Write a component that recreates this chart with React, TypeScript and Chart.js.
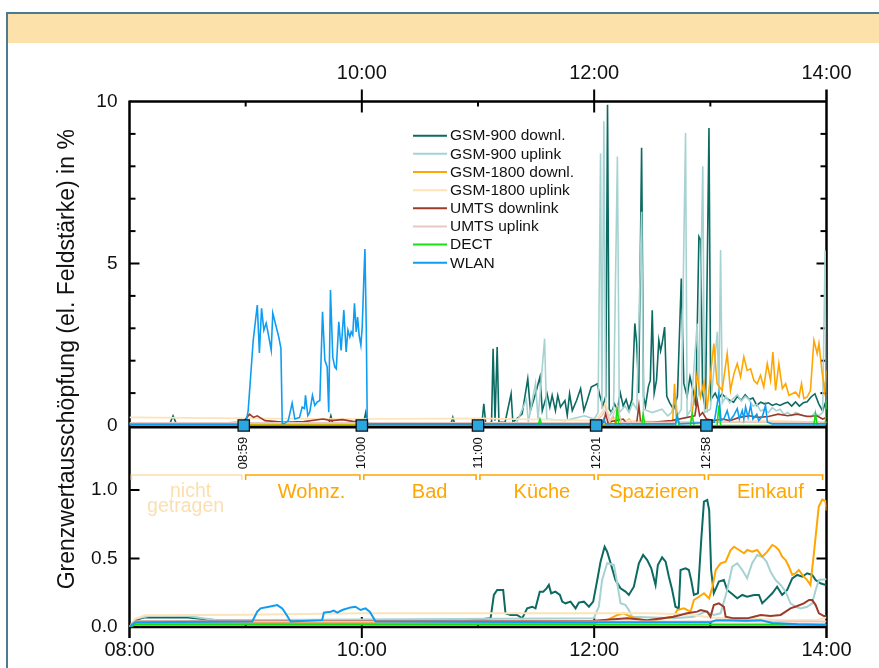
import React, { useEffect, useRef } from 'react';
import { Chart, registerables } from 'chart.js';

Chart.register(...registerables);

type Pt = [number, number];

const FONT = '"Liberation Sans", Arial, Helvetica, sans-serif';

const SERIES_NAMES = ['GSM-900 downl.', 'GSM-900 uplink', 'GSM-1800 downl.', 'GSM-1800 uplink', 'UMTS downlink', 'UMTS uplink', 'DECT', 'WLAN'];
const SERIES_COLORS = ['#0b6a62', '#a6d3d1', '#ffa600', '#fde3b9', '#9c3b2c', '#e9c8c3', '#14e014', '#0f9df2'];

// x values are minutes after 08:00
const X_TOP_TICKS = [120, 240, 360];
const X_BOTTOM_TICKS = [0, 120, 240, 360];
const Y_TOP_TICKS = [0, 5, 10];
const Y_BOTTOM_TICKS = [0, 0.5, 1.0];

const EVENT_TIMES = [59, 120, 180, 241, 298];
const EVENT_LABELS = ['08:59', '10:00', '11:00', '12:01', '12:58'];

const PERIOD_NAMES = [['nicht', 'getragen'], ['Wohnz.'], ['Bad'], ['Küche'], ['Spazieren'], ['Einkauf']];
const PERIOD_START = [1, 60, 121, 181, 242, 299];
const PERIOD_END = [58, 119, 179, 240, 297, 358];
const PERIOD_LABEL_AT = [30, 94, 155, 213, 271, 331];

// ---------- upper panel (0..10 %) ----------
const gsm900dlTop: Pt[] = [[0,0.05],[10,0.08],[21,0.08],[22.5,0.3],[24,0.08],[40,0.06],[58,0.1],[60,0.15],[62,0.08],[80,0.06],[103,0.06],[104,0.3],[105,0.06],[121,0.1],[122,0.4],[123,0.05],[166,0.05],[167,0.25],[168,0.05],[180,0.08],[182,0.05],[183,0.67],[184,0.05],[187,0.1],[187.8,2.37],[188.8,0.15],[189.9,2.42],[190.8,0.1],[194,0.1],[197.1,0.98],[198,0.1],[202.8,0.36],[205.7,1.44],[207.1,0.46],[209.7,0.98],[212,1.5],[213.2,0.46],[215.7,0.98],[217.1,0.57],[218.3,0.93],[220,0.46],[221.2,0.93],[222.6,0.57],[224.9,0.77],[226.1,0.31],[227.3,0.98],[228.7,0.46],[230.9,0.77],[233,1.14],[234.7,0.46],[236.4,0.77],[238.5,1.19],[240.2,1.24],[241.6,1.29],[243,0.9],[244.5,0.6],[246,0.9],[246.9,9.9],[247.8,0.5],[249,0.4],[250.5,0.67],[252,0.5],[253.5,1.0],[255,0.6],[256.5,0.8],[258,0.5],[259.5,0.8],[261,3.15],[262,2.5],[263,1.0],[264.5,8.57],[265.5,0.9],[266.5,0.6],[268,1.2],[269,1.4],[270,3.56],[271,1.0],[272.2,1.4],[273.4,2.63],[274.3,2.3],[275.1,2.53],[276.4,3.04],[277.5,0.9],[279,0.7],[281,0.5],[283,0.9],[285,4.54],[286.3,1.3],[288,0.9],[289.5,1.5],[291,1.1],[292.5,0.6],[294.1,5.83],[295,5.73],[296,1.0],[297.5,0.5],[299.3,9.18],[300.2,0.8],[302.5,1.0],[304,0.8],[306,0.98],[308,0.85],[310,0.78],[312,0.72],[314,0.9],[316,0.78],[318,0.95],[320,0.8],[322,0.85],[324,0.62],[326,0.72],[328,0.67],[330,0.7],[332,0.62],[334,0.67],[336,0.62],[338,0.68],[340,0.72],[342,0.6],[344,0.73],[346,0.6],[348,0.7],[350,0.73],[352,0.88],[354,0.98],[356,0.67],[358,0.45],[360,0.8]];
const gsm900ulTop: Pt[] = [[0,0.05],[180,0.05],[200,0.1],[205,0.8],[206,0.1],[209.7,1.3],[211,0.2],[214.4,2.68],[215.5,0.2],[225,0.15],[235,0.3],[240,0.2],[242,0.4],[243.3,8.4],[244,0.5],[245,9.39],[246,0.4],[248,0.3],[250,0.5],[252,8.3],[253,0.4],[256,0.6],[258,0.4],[260,0.7],[262,0.5],[264.5,6.6],[265.5,0.5],[270,0.4],[275,0.5],[278,0.3],[280,0.4],[282,0.9],[283,0.3],[285,0.5],[287.2,9.03],[288,0.3],[290,0.5],[293.2,3.15],[294,0.9],[296.1,8.0],[297,0.4],[300,0.5],[303.6,2.89],[304.4,0.9],[305.3,5.42],[306.2,0.7],[308,0.9],[310,0.7],[312,0.85],[314,0.95],[316,0.75],[318,0.9],[320,0.8],[322,0.6],[324,0.65],[326,0.45],[328,0.5],[330,0.4],[332,0.55],[334,0.45],[336,0.5],[338,0.35],[340,0.4],[342,0.3],[344,0.4],[346,0.35],[348,0.3],[350,0.3],[352,0.25],[354,0.4],[356,0.3],[358,0.4],[359.3,5.4],[360,0.5]];
const gsm1800dlTop: Pt[] = [[0,0.02],[240,0.03],[248,0.05],[250,0.25],[251,0.05],[253,0.3],[254,0.05],[258,0.2],[260,0.05],[280.5,0.05],[281.5,1.29],[282.5,0.1],[290,0.1],[293.2,1.6],[294.9,0.88],[296.7,1.34],[298.4,0.57],[301.8,2.53],[303.5,1.29],[306.1,1.08],[308.7,2.22],[310.4,1.08],[312.2,1.6],[313.9,1.91],[315.6,1.5],[317.3,2.12],[319,1.7],[320.8,1.75],[322.5,1.39],[324.2,1.29],[325.9,1.55],[327.6,1.19],[329.4,1.91],[331.1,1.39],[332.3,2.27],[333.7,1.08],[335.4,1.91],[337.2,1.14],[338.9,1.29],[340.6,0.93],[342.3,0.98],[344,1.03],[345.8,0.88],[347.1,1.29],[348.3,0.83],[350,0.88],[351.7,1.08],[353.5,2.63],[355.2,2.22],[356.1,2.53],[357.8,1.6],[359,1.08],[360,1.7]];
const gsm1800ulTop: Pt[] = [[0,0.25],[60,0.22],[120,0.2],[180,0.22],[240,0.15],[244,0.4],[246,0.72],[248,0.2],[260,0.15],[280,0.1],[300,0.1],[330,0.15],[360,0.1]];
const umtsDlTop: Pt[] = [[0,0.05],[58,0.05],[60,0.2],[62,0.35],[64,0.25],[66,0.3],[70,0.15],[80,0.1],[90,0.12],[100,0.2],[104,0.15],[110,0.18],[116,0.12],[120,0.15],[122,0.05],[240,0.05],[245,0.1],[246,0.4],[247,0.1],[255,0.2],[257,0.05],[262,0.1],[263.1,0.62],[264,0.1],[270,0.1],[280,0.15],[292,0.3],[293.2,0.77],[294.5,0.3],[296,0.4],[298,0.2],[302,0.15],[306,0.2],[310,0.15],[315,0.25],[320,0.3],[325,0.25],[330,0.28],[335,0.35],[340,0.3],[345,0.35],[350,0.28],[355,0.3],[358,0.2],[360,0.25]];
const umtsUlTop: Pt[] = [[0,0.08],[240,0.08],[244,0.3],[246,0.5],[248,0.1],[252,0.6],[254,0.1],[300,0.1],[360,0.1]];
const dectTop: Pt[] = [[0,0],[211,0],[212,0.2],[213,0],[251,0],[251.9,0.57],[252.8,0],[264.5,0],[265.3,0.36],[266.2,0],[282,0],[282.9,0.3],[283.8,0],[289.7,0],[290.6,0.36],[291.5,0],[303.5,0],[304.4,0.62],[305.3,0],[353.4,0],[354.3,0.36],[355.2,0],[359.4,0],[360,0.77]];
const wlanTop: Pt[] = [[0,0.04],[58,0.04],[60,0.05],[61.3,0.46],[63.9,2.63],[66,3.72],[67.1,2.24],[68.2,3.62],[69.4,2.94],[70.6,3.16],[71.6,2.85],[73.2,2.32],[74,3.47],[75.8,3.04],[77.1,2.73],[78.2,2.38],[78.9,0.06],[80,0.06],[82,0.15],[84,0.69],[85.4,0.2],[87.8,0.25],[89.2,0.57],[90.4,0.52],[90.9,0.93],[92.1,0.31],[93.1,0.41],[94.5,0.93],[95.7,0.62],[96.9,0.72],[98.3,0.77],[99.7,3.51],[100.9,2.01],[102.1,1.81],[102.9,0.41],[103.8,4.18],[105,2.11],[106,1.81],[106.8,1.75],[108.1,3.2],[109.3,2.32],[110.7,3.56],[111.9,2.27],[112.8,2.94],[113.8,2.73],[114.5,2.89],[115.3,2.79],[116.2,3.77],[117.1,2.89],[117.8,3.35],[118.6,2.79],[119.5,2.48],[120.2,3.04],[121,4.49],[121.6,5.45],[122.3,3.0],[122.8,0.08],[124,0.05],[244,0.05],[245,0.2],[246,0.05],[282,0.05],[282.9,0.31],[284,0.05],[302,0.1],[304.4,0.98],[305.5,0.15],[307,0.2],[308.7,0.46],[310,0.15],[312,0.3],[313.9,0.52],[315,0.2],[316.5,0.46],[317.3,0.2],[318.2,0.57],[319.5,0.25],[320.8,0.62],[322,0.2],[324,0.35],[325,0.15],[327,0.3],[328.5,0.62],[329.5,0.1],[332,0.05],[360,0.05]];

// ---------- lower panel (0..1 %) ----------
const gsm900dlBot: Pt[] = [[0,0],[3,0.05],[8,0.07],[30,0.07],[45,0.05],[170,0.04],[186.5,0.063],[188.2,0.234],[189.9,0.27],[193,0.27],[194.2,0.1],[196.8,0.088],[200.2,0.088],[202.8,0.063],[205.4,0.136],[208,0.148],[209.7,0.136],[211.9,0.258],[213.7,0.258],[215.4,0.282],[216.6,0.307],[217.8,0.246],[220,0.258],[222.3,0.234],[223.5,0.185],[225.2,0.173],[227.8,0.185],[230.4,0.136],[232.1,0.178],[234.7,0.185],[237.3,0.148],[239.5,0.185],[241.6,0.343],[243.3,0.477],[245.4,0.586],[246.7,0.55],[248.5,0.465],[251,0.343],[253.6,0.282],[256.2,0.258],[257.9,0.234],[260.5,0.294],[263.1,0.465],[265.3,0.526],[267.4,0.489],[269.5,0.428],[271.7,0.307],[272.9,0.453],[275.1,0.509],[276.9,0.477],[278.6,0.367],[280.3,0.27],[282,0.148],[283.7,0.136],[284.6,0.416],[287.2,0.428],[288.9,0.416],[290.1,0.343],[291.5,0.234],[293.6,0.246],[295.3,0.635],[296.7,0.915],[298.4,0.927],[299.4,0.854],[300.4,0.416],[301.8,0.246],[304.4,0.331],[307,0.343],[308.7,0.27],[310.8,0.246],[313.9,0.209],[316.5,0.234],[319,0.221],[322.5,0.234],[325.1,0.234],[326.8,0.173],[329.4,0.209],[332,0.246],[334.5,0.294],[337.1,0.234],[339.7,0.27],[342.3,0.355],[344.9,0.38],[347.5,0.367],[350,0.392],[352.6,0.38],[354.4,0.343],[356.9,0.319],[359.5,0.307],[360,0.31]];
const gsm900ulBot: Pt[] = [[0,0],[3,0.06],[10,0.08],[30,0.08],[45,0.05],[239.8,0.063],[242.4,0.148],[244.1,0.343],[246.7,0.465],[250.2,0.453],[251.9,0.319],[253.6,0.173],[256.2,0.16],[257.9,0.124],[259.6,0.075],[281.1,0.063],[291.5,0.075],[297.5,0.112],[301.8,0.088],[305.3,0.1],[307,0.185],[308.7,0.27],[311.3,0.44],[313.9,0.465],[316.5,0.416],[319,0.355],[321.6,0.465],[324.2,0.526],[326.8,0.513],[329,0.477],[331.1,0.404],[333.7,0.343],[336.3,0.307],[338.9,0.258],[341.4,0.173],[344,0.148],[346.6,0.136],[350,0.148],[352.6,0.173],[354.4,0.27],[356.1,0.343],[359.5,0.348],[360,0.35]];
const gsm1800dlBot: Pt[] = [[0,0],[3,0.03],[240,0.03],[246.7,0.05],[252,0.088],[255.3,0.1],[258.8,0.075],[267.4,0.04],[281.1,0.075],[282.9,0.124],[286.3,0.136],[289.8,0.112],[291.5,0.197],[294.1,0.221],[296.7,0.246],[299.4,0.209],[301.1,0.294],[302.8,0.416],[305.3,0.465],[307.9,0.477],[310.5,0.562],[312.2,0.586],[314.8,0.562],[317.4,0.538],[319.1,0.562],[321.6,0.55],[324.2,0.562],[326.8,0.513],[329.4,0.55],[332,0.599],[333.7,0.586],[335.4,0.562],[337.1,0.513],[338.9,0.489],[340.6,0.44],[342.3,0.38],[344,0.392],[345.7,0.416],[347.5,0.38],[350,0.343],[351.7,0.307],[353.5,0.54],[356,0.88],[357.8,0.93],[359.5,0.92],[360,0.85]];
const gsm1800ulBot: Pt[] = [[0,0],[3,0.06],[8,0.085],[60,0.09],[120,0.1],[180,0.1],[240,0.1],[270,0.1],[290,0.09],[300,0.07],[320,0.06],[340,0.05],[355,0.05],[360,0.07]];
const umtsDlBot: Pt[] = [[0,0],[3,0.04],[240,0.045],[257.1,0.063],[267.4,0.05],[281.1,0.075],[288,0.1],[293.2,0.112],[295,0.124],[298.4,0.112],[300.1,0.075],[301.8,0.16],[304.4,0.173],[307,0.148],[307.9,0.075],[312.2,0.063],[319,0.063],[322.5,0.075],[326,0.088],[331.1,0.08],[336.3,0.088],[338.9,0.112],[341.4,0.136],[344.9,0.153],[348.3,0.173],[351,0.197],[352.6,0.197],[354.4,0.16],[356.1,0.1],[358.7,0.08],[360,0.08]];
const umtsUlBot: Pt[] = [[0,0],[3,0.04],[360,0.04]];
const dectBot: Pt[] = [[0,0],[3,0.018],[360,0.018]];
const wlanBot: Pt[] = [[0,0],[3,0.035],[63.4,0.04],[66,0.112],[67.7,0.136],[72,0.148],[76.3,0.16],[78.9,0.136],[80.6,0.1],[83.2,0.04],[99.5,0.05],[100.4,0.105],[103.9,0.112],[105.5,0.12],[107.3,0.105],[109.9,0.124],[114.2,0.143],[116.7,0.148],[119.3,0.124],[121.9,0.136],[124.1,0.112],[127.1,0.04],[240,0.035],[300,0.035],[303,0.05],[310,0.05],[318,0.045],[326,0.05],[332,0.03],[345,0.02],[360,0.015]];

const TOP_SERIES = [gsm900dlTop, gsm900ulTop, gsm1800dlTop, gsm1800ulTop, umtsDlTop, umtsUlTop, dectTop, wlanTop];
const BOT_SERIES = [gsm900dlBot, gsm900ulBot, gsm1800dlBot, gsm1800ulBot, umtsDlBot, umtsUlBot, dectBot, wlanBot];

const PERIOD_COLORS = ['#fcdfae', '#ffa600', '#ffa600', '#ffa600', '#ffa600', '#ffa600'];

function hhmm(m: number) {
  const h = 8 + Math.floor(m / 60);
  const mm = Math.round(m % 60);
  return String(h).padStart(2, '0') + ':' + String(mm).padStart(2, '0');
}

function seg(ctx: CanvasRenderingContext2D, x1: number, y1: number, x2: number, y2: number) {
  ctx.beginPath();
  ctx.moveTo(x1, y1);
  ctx.lineTo(x2, y2);
  ctx.stroke();
}

const decorPlugin = {
  id: 'decor',
  beforeDatasetsDraw(chart: any) {
    const { ctx, chartArea: ca, scales } = chart;
    const x = scales.x, yT = scales.yTop, yB = scales.yBot;
    const y0 = yT.getPixelForValue(0);
    ctx.save();
    ctx.strokeStyle = '#000';
    ctx.lineWidth = 2.5;
    seg(ctx, ca.left, ca.top, ca.right, ca.top);
    seg(ctx, ca.left, ca.top - 1, ca.left, ca.bottom + 11);
    seg(ctx, ca.right, ca.top - 12, ca.right, ca.bottom + 11);
    seg(ctx, ca.left, ca.bottom, ca.right, ca.bottom);
    ctx.lineWidth = 3;
    seg(ctx, ca.left, y0 + 1.5, ca.right, y0 + 1.5);
    ctx.lineWidth = 2;
    for (let m = 60; m < 360; m += 60) {
      const px = x.getPixelForValue(m);
      if (m % 120 === 0) {
        seg(ctx, px, ca.top - 12, px, ca.top + 11);
        seg(ctx, px, ca.bottom - 10, px, ca.bottom + 11);
      } else {
        seg(ctx, px, ca.top, px, ca.top + 5);
        seg(ctx, px, ca.bottom - 6, px, ca.bottom);
      }
    }
    for (let v = 1; v < 10; v++) {
      const py = yT.getPixelForValue(v);
      const len = v === 5 ? 10 : 6;
      seg(ctx, ca.left, py, ca.left + len, py);
      seg(ctx, ca.right - len, py, ca.right, py);
    }
    for (const v of [0.5, 1.0]) {
      const py = yB.getPixelForValue(v);
      seg(ctx, ca.left, py, ca.left + 10, py);
      seg(ctx, ca.right - 10, py, ca.right, py);
    }
    ctx.restore();
  },
  afterDraw(chart: any) {
    const { ctx, chartArea: ca, scales, data } = chart;
    const x = scales.x, yT = scales.yTop;
    const y0 = yT.getPixelForValue(0);
    ctx.save();
    // event time labels (rotated)
    ctx.fillStyle = '#111';
    ctx.font = `13px ${FONT}`;
    ctx.textAlign = 'center';
    ctx.textBaseline = 'middle';
    EVENT_TIMES.forEach((t, i) => {
      ctx.save();
      ctx.translate(x.getPixelForValue(t), y0 + 27.5);
      ctx.rotate(-Math.PI / 2);
      ctx.fillText(EVENT_LABELS[i], 0, 0);
      ctx.restore();
    });
    // activity brackets
    const by = y0 + 49.5;
    PERIOD_NAMES.forEach((lines, i) => {
      const xa = x.getPixelForValue(PERIOD_START[i]);
      const xb = x.getPixelForValue(PERIOD_END[i]);
      ctx.strokeStyle = PERIOD_COLORS[i];
      ctx.lineWidth = 1.6;
      ctx.beginPath();
      ctx.moveTo(xa, by + 5);
      ctx.lineTo(xa, by);
      ctx.lineTo(xb, by);
      ctx.lineTo(xb, by + 5);
      ctx.stroke();
      ctx.fillStyle = PERIOD_COLORS[i];
      const lx = x.getPixelForValue(PERIOD_LABEL_AT[i]);
      if (lines.length === 1) {
        ctx.font = `20px ${FONT}`;
        ctx.fillText(lines[0], lx, y0 + 66.5);
      } else {
        ctx.font = `19.5px ${FONT}`;
        ctx.fillText(lines[0], lx + 3, y0 + 66);
        ctx.fillText(lines[1], lx - 2, y0 + 81);
      }
    });
    // legend
    ctx.font = `15.5px ${FONT}`;
    ctx.textAlign = 'left';
    ctx.textBaseline = 'middle';
    SERIES_NAMES.forEach((name, i) => {
      const ly = ca.top + 34.2 + i * 18.15;
      const lx = ca.left + 283.5;
      ctx.strokeStyle = data.datasets[i + 1].borderColor;
      ctx.lineWidth = 2;
      seg(ctx, lx, ly, lx + 34, ly);
      ctx.fillStyle = '#111';
      ctx.fillText(name, lx + 37, ly + 0.5);
    });
    // y title
    ctx.save();
    ctx.translate(74, (ca.top + ca.bottom) / 2 - 5);
    ctx.rotate(-Math.PI / 2);
    ctx.font = `23px ${FONT}`;
    ctx.textAlign = 'center';
    ctx.textBaseline = 'alphabetic';
    ctx.fillStyle = '#111';
    ctx.fillText('Grenzwertausschöpfung (el. Feldstärke) in %', 0, 0);
    ctx.restore();
    ctx.restore();
  },
};

export default function App() {
  const ref = useRef<HTMLCanvasElement>(null);

  useEffect(() => {
    const canvas = ref.current;
    if (!canvas) return;
    const toXY = (a: Pt[]) => a.map(([m, v]) => ({ x: m, y: v }));

    const markers: any = {
      label: 'events',
      data: EVENT_TIMES.map((t) => ({ x: t, y: 0 })),
      yAxisID: 'yTop',
      xAxisID: 'x',
      showLine: false,
      pointStyle: 'rect',
      pointRadius: 8,
      backgroundColor: '#2aa7e1',
      borderColor: '#111',
      pointBorderWidth: 1.3,
      clip: false,
      order: 0,
    };
    const topSets = TOP_SERIES.map((s, i) => ({
      label: SERIES_NAMES[i],
      data: toXY(s),
      yAxisID: 'yTop',
      xAxisID: 'x',
      borderColor: SERIES_COLORS[i],
      borderWidth: 1.6,
      pointRadius: 0,
      tension: 0,
      fill: false,
      order: 20 - i,
    }));
    const botSets = BOT_SERIES.map((s, i) => ({
      label: SERIES_NAMES[i] + ' (Mittel)',
      data: toXY(s),
      yAxisID: 'yBot',
      xAxisID: 'x',
      borderColor: SERIES_COLORS[i],
      borderWidth: 2,
      pointRadius: 0,
      tension: 0,
      fill: false,
      order: 20 - i,
    }));

    const xTickFont = { family: FONT, size: 20 };
    const yTickFont = { family: FONT, size: 19 };

    const chart = new Chart(canvas, {
      type: 'line',
      data: { datasets: [markers, ...topSets, ...botSets] },
      options: {
        responsive: false,
        animation: false,
        events: [],
        layout: { padding: { left: 0, right: 52.5, top: 0, bottom: 0 } },
        plugins: { legend: { display: false }, tooltip: { enabled: false } },
        scales: {
          xTop: {
            type: 'linear', position: 'top', min: 0, max: 360,
            grid: { display: false, drawTicks: false }, border: { display: false },
            ticks: { font: xTickFont, color: '#111', padding: 16.5, maxRotation: 0, autoSkip: false, callback: (v: any) => hhmm(Number(v)) },
            afterBuildTicks: (s: any) => { s.ticks = X_TOP_TICKS.map((v) => ({ value: v })); },
            afterFit: (s: any) => { s.height = 101.5; },
          },
          x: {
            type: 'linear', position: 'bottom', min: 0, max: 360,
            grid: { display: false, drawTicks: false }, border: { display: false },
            ticks: { font: xTickFont, color: '#111', padding: 11, maxRotation: 0, autoSkip: false, callback: (v: any) => hhmm(Number(v)) },
            afterBuildTicks: (s: any) => { s.ticks = X_BOTTOM_TICKS.map((v) => ({ value: v })); },
            afterFit: (s: any) => { s.height = 41; },
          },
          yBot: {
            type: 'linear', position: 'left', stack: 'left', stackWeight: 201.5, min: 0, max: 1.4708,
            grid: { display: false, drawTicks: false }, border: { display: false },
            ticks: { font: yTickFont, color: '#111', padding: 12, autoSkip: false, callback: (v: any) => Number(v).toFixed(1) },
            afterBuildTicks: (s: any) => { s.ticks = Y_BOTTOM_TICKS.map((v) => ({ value: v })); },
            afterFit: (s: any) => { s.width = 129.5; },
          },
          yTop: {
            type: 'linear', position: 'left', stack: 'left', stackWeight: 324, min: 0, max: 10,
            grid: { display: false, drawTicks: false }, border: { display: false },
            ticks: { font: yTickFont, color: '#111', padding: 12, autoSkip: false, callback: (v: any) => String(v) },
            afterBuildTicks: (s: any) => { s.ticks = Y_TOP_TICKS.map((v) => ({ value: v })); },
            afterFit: (s: any) => { s.width = 129.5; },
          },
        },
      } as any,
      plugins: [decorPlugin as any],
    });
    return () => chart.destroy();
  }, []);

  return (
    <div style={{ position: 'absolute', left: 0, top: 0, width: 879, height: 668, overflow: 'hidden', background: '#fff' }}>
      <div style={{ position: 'absolute', left: 6, top: 12, width: 900, height: 700, borderLeft: '2px solid #4d7991', borderTop: '2px solid #4d7991', boxSizing: 'border-box' }} />
      <div style={{ position: 'absolute', left: 8, top: 14, width: 880, height: 29, background: '#fde1aa' }} />
      <canvas ref={ref} width={879} height={668} style={{ position: 'absolute', left: 0, top: 0, width: 879, height: 668 }} />
    </div>
  );
}
